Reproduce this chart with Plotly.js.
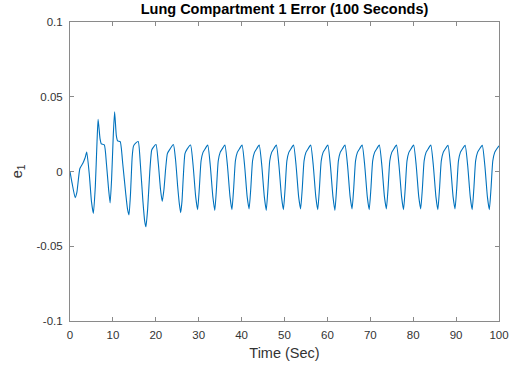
<!DOCTYPE html>
<html>
<head>
<meta charset="utf-8">
<script src="https://cdn.plot.ly/plotly-3.0.1.min.js"></script>
<style>html,body{margin:0;padding:0;background:#fff;}#chart{width:516px;height:372px;}</style>
</head>
<body>
<div id="chart"></div>
<script>
const chartTitle = "Lung Compartment 1 Error (100 Seconds)";
const xLabel = "Time (Sec)";
const yLabel = "e<sub>1</sub>";
const xTicks = [0, 10, 20, 30, 40, 50, 60, 70, 80, 90, 100];
const yTicks = [-0.1, -0.05, 0, 0.05, 0.1];
const yTickLabels = ["-0.1", "-0.05", "0", "0.05", "0.1"];

const time = [
  0, 0.5, 1.2, 1.6, 2.3, 3.0, 3.5, 3.9, 4.5, 5.0, 5.45, 5.9, 6.3, 6.55, 7.0, 7.3, 8.0, 8.5, 9.0, 9.35,
  9.7, 10.1, 10.4, 10.8, 11.1, 11.7, 12.3, 13.0, 13.4, 13.75, 14.1, 14.5, 14.8, 15.3, 15.9, 16.4, 17.0, 17.4, 17.7, 18.1,
  18.6, 19.05, 19.5, 20.05, 20.6, 21.1, 21.5, 21.9, 22.3, 22.7, 23.3, 24.1, 24.6, 25.1, 25.5, 25.8, 26.1, 26.4, 26.8, 27.3,
  28.1, 28.7, 29.3, 29.75, 30.15, 30.55, 31, 31.5,
  32.1, 32.7, 33.3, 33.75, 34.15, 34.55, 35, 35.5,
  36.1, 36.7, 37.3, 37.75, 38.15, 38.55, 39, 39.5,
  40.1, 40.7, 41.3, 41.75, 42.15, 42.55, 43, 43.5,
  44.1, 44.7, 45.3, 45.75, 46.15, 46.55, 47, 47.5,
  48.1, 48.7, 49.3, 49.75, 50.15, 50.55, 51, 51.5,
  52.1, 52.7, 53.3, 53.75, 54.15, 54.55, 55, 55.5,
  56.1, 56.7, 57.3, 57.75, 58.15, 58.55, 59, 59.5,
  60.1, 60.7, 61.3, 61.75, 62.15, 62.55, 63, 63.5,
  64.1, 64.7, 65.3, 65.75, 66.15, 66.55, 67, 67.5,
  68.1, 68.7, 69.3, 69.75, 70.15, 70.55, 71, 71.5,
  72.1, 72.7, 73.3, 73.75, 74.15, 74.55, 75, 75.5,
  76.1, 76.7, 77.3, 77.75, 78.15, 78.55, 79, 79.5,
  80.1, 80.7, 81.3, 81.75, 82.15, 82.55, 83, 83.5,
  84.1, 84.7, 85.3, 85.75, 86.15, 86.55, 87, 87.5,
  88.1, 88.7, 89.3, 89.75, 90.15, 90.55, 91, 91.5,
  92.1, 92.7, 93.3, 93.75, 94.15, 94.55, 95, 95.5,
  96.1, 96.7, 97.3, 97.75, 98.15, 98.55, 99, 99.5,
  100
];

const error1 = [
  0, -0.008, -0.0175, -0.014, 0.002, 0.0055, 0.009, 0.013, -0.002, -0.020, -0.028, -0.010, 0.020, 0.035, 0.022, 0.0185, 0.0178, 0.005, -0.012, -0.021,
  -0.005, 0.025, 0.040, 0.024, 0.0205, 0.020, 0.005, -0.015, -0.025, -0.029, -0.015, 0.010, 0.017, 0.019, 0.020, 0.005, -0.020, -0.033, -0.037, -0.025,
  0.000, 0.0144, 0.0165, 0.018, 0.005, -0.012, -0.020, -0.012, 0.002, 0.012, 0.015, 0.018, 0.008, -0.010, -0.022, -0.0275, -0.020, -0.004, 0.012, 0.015,
  0.0177, 0.004, -0.017, -0.0255, -0.011, 0.007, 0.0128, 0.0152,
  0.0177, 0.004, -0.017, -0.0260, -0.011, 0.007, 0.0128, 0.0152,
  0.0177, 0.004, -0.017, -0.0255, -0.011, 0.007, 0.0128, 0.0152,
  0.0177, 0.004, -0.017, -0.0250, -0.011, 0.007, 0.0128, 0.0152,
  0.0177, 0.004, -0.017, -0.0260, -0.011, 0.007, 0.0128, 0.0152,
  0.0177, 0.004, -0.017, -0.0255, -0.011, 0.007, 0.0128, 0.0152,
  0.0177, 0.004, -0.017, -0.0250, -0.011, 0.007, 0.0128, 0.0152,
  0.0177, 0.004, -0.017, -0.0255, -0.011, 0.007, 0.0128, 0.0152,
  0.0177, 0.004, -0.017, -0.0260, -0.011, 0.007, 0.0128, 0.0152,
  0.0177, 0.004, -0.017, -0.0250, -0.011, 0.007, 0.0128, 0.0152,
  0.0177, 0.004, -0.017, -0.0255, -0.011, 0.007, 0.0128, 0.0152,
  0.0177, 0.004, -0.017, -0.0250, -0.011, 0.007, 0.0128, 0.0152,
  0.0177, 0.004, -0.017, -0.0255, -0.011, 0.007, 0.0128, 0.0152,
  0.0177, 0.004, -0.017, -0.0250, -0.011, 0.007, 0.0128, 0.0152,
  0.0177, 0.004, -0.017, -0.0255, -0.011, 0.007, 0.0128, 0.0152,
  0.0175, 0.004, -0.017, -0.0250, -0.011, 0.007, 0.0128, 0.0152,
  0.0175, 0.004, -0.017, -0.0255, -0.011, 0.007, 0.0128, 0.0152,
  0.0175, 0.004, -0.017, -0.0255, -0.011, 0.007, 0.0128, 0.0152,
  0.0172
];

const font = "Liberation Sans, Arial, Helvetica, sans-serif";
const axisColor = "#8a8a8a";
const textColor = "#333333";

const trace = {
  x: time, y: error1, type: "scatter", mode: "lines",
  line: {color: "#0072BD", width: 1.1, shape: "spline", smoothing: 0.5},
  hoverinfo: "skip"
};

const axisCommon = {
  showgrid: false, zeroline: false, showline: true, linecolor: axisColor, linewidth: 1,
  mirror: "ticks", ticks: "inside", ticklen: 4, tickwidth: 1, tickcolor: axisColor,
  tickfont: {family: font, size: 11.5, color: textColor}
};

const layout = {
  width: 516, height: 372,
  margin: {l: 70, r: 17, t: 22, b: 51, pad: 0},
  paper_bgcolor: "#ffffff", plot_bgcolor: "#ffffff",
  showlegend: false,
  title: {
    text: "<b>" + chartTitle + "</b>",
    font: {family: font, size: 14.5, color: "#000000"},
    x: 0.5, xref: "paper", xanchor: "center",
    y: 1 - 4/372, yref: "container", yanchor: "top"
  },
  xaxis: Object.assign({}, axisCommon, {
    range: [0, 100], tickvals: xTicks, ticktext: xTicks.map(String),
    ticklabelstandoff: 3,
    title: {text: xLabel, font: {family: font, size: 14.5, color: textColor}, standoff: 8}
  }),
  yaxis: Object.assign({}, axisCommon, {
    range: [-0.1, 0.1], tickvals: yTicks, ticktext: yTickLabels,
    ticklabelstandoff: 4,
    title: {text: yLabel, font: {family: font, size: 14.5, color: textColor}, standoff: 10}
  })
};

Plotly.newPlot("chart", [trace], layout, {staticPlot: true, displayModeBar: false});
</script>
</body>
</html>
